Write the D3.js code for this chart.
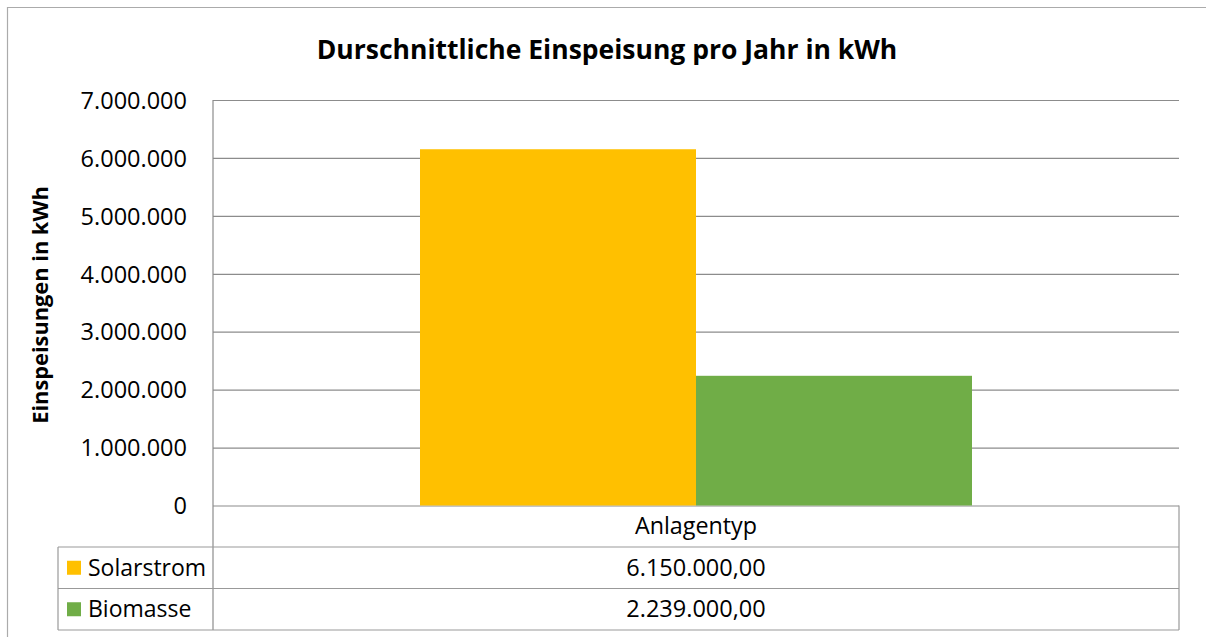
<!DOCTYPE html>
<html lang="de">
<head>
  <meta charset="UTF-8">
  <title>Einspeisung</title>
  <style>
    body { margin: 0; background: #fff; }
    svg text { font-family: "Open Sans", sans-serif; fill: #000; }
  </style>
</head>
<body>
  <svg id="chart" width="1206" height="637"></svg>
  <script src="https://cdn.jsdelivr.net/npm/d3@7"></script>
  <script>
    // data
    var categories = ['Anlagentyp'];
    var seriesNames = ['Solarstrom', 'Biomasse'];
    var seriesValues = [6150000, 2239000];
    var seriesColors = ['#FFC000', '#70AD47'];
    var yTickValues = [0, 1000000, 2000000, 3000000, 4000000, 5000000, 6000000, 7000000];

    var de = d3.formatLocale({ decimal: ',', thousands: '.', grouping: [3], currency: ['', ' €'] });
    var fmtTick = de.format(',.0f');
    var fmtVal = de.format(',.2f');

    var svg = d3.select('#chart');
    // note: "top" is a reserved window property, so plot* names
    var plotLeft = 213, plotRight = 1179, plotTop = 100, plotBottom = 505.5;
    var rowH = 41.5, legendLeft = 58;

    // outer frame (cut off at right and bottom)
    svg.append('path')
      .attr('d', 'M7.5,637 V7.5 H1206')
      .attr('fill', 'none').attr('stroke', '#ababab').attr('stroke-width', 1.2);

    // title
    svg.append('text')
      .attr('x', 607).attr('y', 59)
      .attr('text-anchor', 'middle')
      .style('font-size', '26.5px').style('font-weight', 'bold')
      .text('Durschnittliche Einspeisung pro Jahr in kWh');

    // scales
    var y = d3.scaleLinear().domain([0, 7000000]).range([plotBottom, plotTop]);
    var x0 = d3.scaleBand().domain(categories).range([plotLeft, plotRight]).paddingInner(0).paddingOuter(0);
    var x1 = d3.scaleBand().domain(seriesNames).range([0, x0.bandwidth()]).paddingOuter(0.75).paddingInner(0);

    // y axis with gridlines
    var yAxis = svg.append('g')
      .attr('transform', 'translate(' + plotLeft + ',0)')
      .call(d3.axisLeft(y).tickValues(yTickValues).tickFormat(fmtTick)
        .tickSize(-(plotRight - plotLeft)).tickPadding(26));
    yAxis.select('.domain').remove();
    yAxis.selectAll('.tick line').attr('stroke', '#8c8c8c').attr('stroke-width', 1.2);
    yAxis.selectAll('.tick text')
      .style('font-size', '23.5px').style('font-family', '"Open Sans", sans-serif')
      .attr('dy', '0.35em');

    // y title
    svg.append('text')
      .attr('transform', 'translate(48,305) rotate(-90)')
      .attr('text-anchor', 'middle')
      .style('font-size', '21.8px').style('font-weight', 'bold')
      .text('Einspeisungen in kWh');

    // bars
    svg.append('g').selectAll('rect')
      .data(seriesNames.map(function (n, i) { return { name: n, value: seriesValues[i], color: seriesColors[i] }; }))
      .enter().append('rect')
      .attr('x', function (d) { return x0(categories[0]) + x1(d.name); })
      .attr('y', function (d) { return y(d.value); })
      .attr('width', x1.bandwidth())
      .attr('height', function (d) { return y(0) - y(d.value); })
      .attr('fill', function (d) { return d.color; });

    // data table
    var tbl = svg.append('g').attr('stroke', '#999').attr('stroke-width', 1.2).attr('fill', 'none');
    var tblBottom = plotBottom + rowH * (seriesNames.length + 1);
    tbl.append('line').attr('x1', plotLeft).attr('x2', plotLeft).attr('y1', plotTop).attr('y2', tblBottom).attr('stroke', '#8c8c8c');
    tbl.append('line').attr('x1', plotRight).attr('x2', plotRight).attr('y1', plotBottom).attr('y2', tblBottom);
    tbl.append('line').attr('x1', legendLeft).attr('x2', legendLeft).attr('y1', plotBottom + rowH).attr('y2', tblBottom);
    seriesNames.forEach(function (n, i) {
      var yy = plotBottom + rowH * (i + 1);
      tbl.append('line').attr('x1', legendLeft).attr('x2', plotRight).attr('y1', yy).attr('y2', yy);
    });
    tbl.append('line').attr('x1', legendLeft).attr('x2', plotRight).attr('y1', tblBottom).attr('y2', tblBottom);

    // category header
    svg.append('text')
      .attr('x', x0(categories[0]) + x0.bandwidth() / 2).attr('y', plotBottom + rowH / 2)
      .attr('dy', '0.35em').attr('text-anchor', 'middle')
      .style('font-size', '23.3px')
      .text(categories[0]);

    // rows
    var rows = svg.append('g').selectAll('g')
      .data(seriesNames).enter().append('g')
      .attr('transform', function (d, i) { return 'translate(0,' + (plotBottom + rowH * (i + 1.5)) + ')'; });
    rows.append('rect')
      .attr('x', 67).attr('y', -7).attr('width', 14).attr('height', 14)
      .attr('fill', function (d, i) { return seriesColors[i]; });
    rows.append('text')
      .attr('x', 88).attr('dy', '0.35em')
      .style('font-size', '23px')
      .text(function (d) { return d; });
    rows.append('text')
      .attr('x', (plotLeft + plotRight) / 2).attr('dy', '0.35em').attr('text-anchor', 'middle')
      .style('font-size', '23.5px')
      .text(function (d, i) { return fmtVal(seriesValues[i]); });
  </script>
</body>
</html>
